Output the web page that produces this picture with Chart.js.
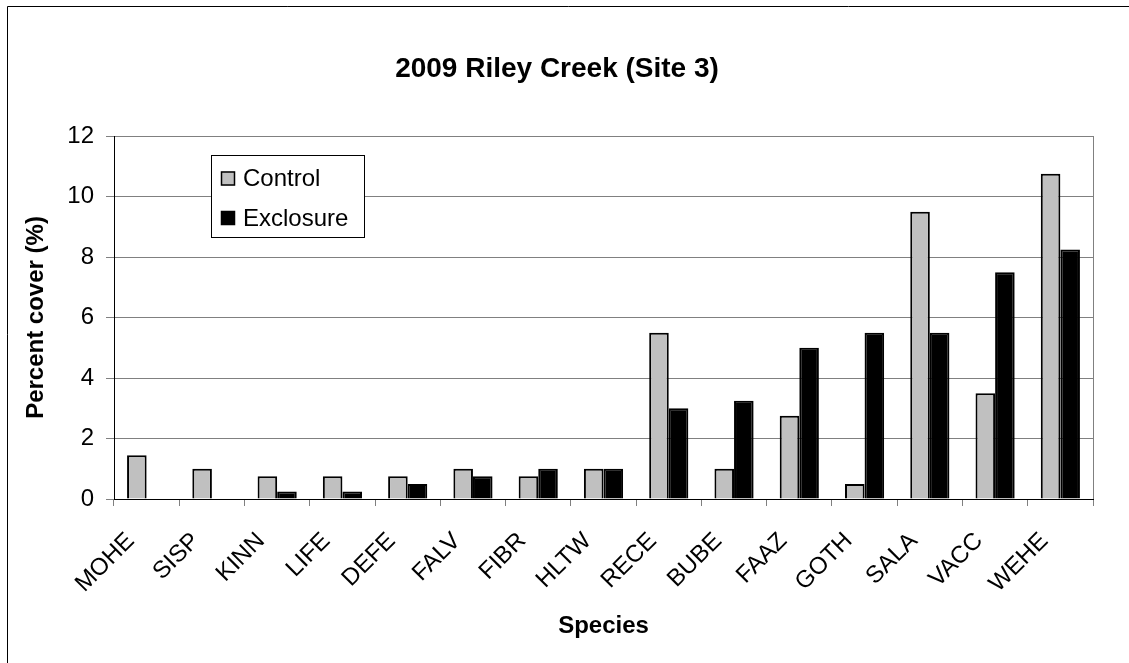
<!DOCTYPE html>
<html>
<head>
<meta charset="utf-8">
<title>2009 Riley Creek (Site 3)</title>
<script src="https://cdn.jsdelivr.net/npm/chart.js@4/dist/chart.umd.min.js"></script>
<style>
  html, body { margin: 0; padding: 0; background: #ffffff; }
  #wrap { width: 1129px; height: 663px; }
</style>
</head>
<body>
<div id="wrap"><canvas id="chart" width="1129" height="663"></canvas></div>
<script>
// Species codes along the x axis
const species = ["MOHE", "SISP", "KINN", "LIFE", "DEFE", "FALV", "FIBR", "HLTW",
                 "RECE", "BUBE", "FAAZ", "GOTH", "SALA", "VACC", "WEHE"];
// Percent cover per species
const controlCover   = [1.45, 1.0, 0.75, 0.75, 0.75, 1.0, 0.75, 1.0, 5.5, 1.0, 2.75, 0.5, 9.5, 3.5, 10.75];
const exclosureCover = [null, null, 0.25, 0.25, 0.5, 0.75, 1.0, 1.0, 3.0, 3.25, 5.0, 5.5, 5.5, 7.5, 8.25];
const seriesNames = ["Control", "Exclosure"];
const chartTitle = "2009 Riley Creek (Site 3)";
const yTitle = "Percent cover (%)";
const xTitle = "Species";

const FONT = "'Liberation Sans', Arial, sans-serif";

// Page frame, plot right edge, chart title and the boxed legend
const decorations = {
  id: "decorations",
  beforeDraw(chart) {
    const ctx = chart.ctx;
    ctx.save();
    ctx.fillStyle = "#ffffff";
    ctx.fillRect(0, 0, chart.width, chart.height);
    ctx.strokeStyle = "#000000";
    ctx.lineWidth = 1;
    ctx.beginPath();
    ctx.moveTo(7.5, chart.height);
    ctx.lineTo(7.5, 6.5);
    ctx.lineTo(chart.width, 6.5);
    ctx.stroke();
    ctx.fillStyle = "#000000";
    ctx.font = "bold 28px " + FONT;
    ctx.textAlign = "center";
    ctx.textBaseline = "middle";
    ctx.fillText(chartTitle, 557, 69);
    ctx.restore();
  },
  beforeDatasetsDraw(chart) {
    const ctx = chart.ctx;
    const a = chart.chartArea;
    ctx.save();
    ctx.strokeStyle = "#808080";
    ctx.lineWidth = 1;
    ctx.beginPath();
    ctx.moveTo(Math.round(a.right) + 0.5, a.top);
    ctx.lineTo(Math.round(a.right) + 0.5, a.bottom);
    ctx.stroke();
    ctx.restore();
  },
  afterDatasetsDraw(chart) {
    const ctx = chart.ctx;
    ctx.save();
    const bx = 211, by = 155, bw = 153, bh = 82;
    ctx.fillStyle = "#ffffff";
    ctx.fillRect(bx, by, bw, bh);
    ctx.strokeStyle = "#000000";
    ctx.lineWidth = 1;
    ctx.strokeRect(bx + 0.5, by + 0.5, bw, bh);
    ctx.font = "24px " + FONT;
    ctx.textBaseline = "middle";
    ctx.textAlign = "left";
    const rows = [178.5, 218];
    chart.data.datasets.forEach((ds, i) => {
      const cy = rows[i];
      ctx.fillStyle = ds.backgroundColor;
      ctx.fillRect(221, cy - 7, 14, 14);
      ctx.strokeStyle = "#000000";
      ctx.lineWidth = 1.5;
      ctx.strokeRect(221.5, cy - 6.5, 13, 13);
      ctx.fillStyle = "#000000";
      ctx.fillText(ds.label, 243, cy + 1);
    });
    ctx.restore();
  }
};

new Chart(document.getElementById("chart"), {
  type: "bar",
  data: {
    labels: species,
    datasets: [
      {
        label: seriesNames[0],
        data: controlCover,
        backgroundColor: "#c0c0c0",
        borderColor: "#000000",
        borderWidth: 2,
        borderSkipped: "start",
        categoryPercentage: 0.6,
        barPercentage: 1.0
      },
      {
        label: seriesNames[1],
        data: exclosureCover,
        backgroundColor: "#000000",
        borderColor: "#000000",
        borderWidth: 2,
        borderSkipped: "start",
        categoryPercentage: 0.6,
        barPercentage: 1.0
      }
    ]
  },
  options: {
    responsive: false,
    animation: false,
    devicePixelRatio: 1,
    layout: { padding: { top: 136, right: 36, bottom: 0, left: 0 } },
    plugins: {
      legend: { display: false },
      title: { display: false },
      tooltip: { enabled: false }
    },
    scales: {
      x: {
        offset: true,
        afterFit(scale) { scale.height = 164; },
        border: { display: true, color: "#000000", width: 1 },
        grid: {
          offset: true,
          drawOnChartArea: false,
          drawTicks: true,
          tickLength: 7,
          tickColor: "#808080"
        },
        ticks: {
          autoSkip: false,
          minRotation: 45,
          maxRotation: 45,
          padding: 21,
          labelOffset: -16,
          color: "#000000",
          font: { family: FONT, size: 24 }
        },
        title: {
          display: true,
          text: xTitle,
          color: "#000000",
          font: { family: FONT, size: 24, weight: "bold" },
          padding: { top: 0, bottom: 22 }
        }
      },
      y: {
        min: 0,
        max: 12,
        afterFit(scale) { scale.width = 114; },
        border: { display: true, color: "#000000", width: 1 },
        grid: {
          color: "#808080",
          lineWidth: 1,
          drawTicks: true,
          tickLength: 8,
          tickColor: "#808080"
        },
        ticks: {
          stepSize: 2,
          padding: 12,
          color: "#000000",
          font: { family: FONT, size: 24 }
        },
        title: {
          display: true,
          text: yTitle,
          color: "#000000",
          font: { family: FONT, size: 24, weight: "bold" },
          padding: { top: 22, bottom: 0 }
        }
      }
    }
  },
  plugins: [decorations]
});
</script>
</body>
</html>
